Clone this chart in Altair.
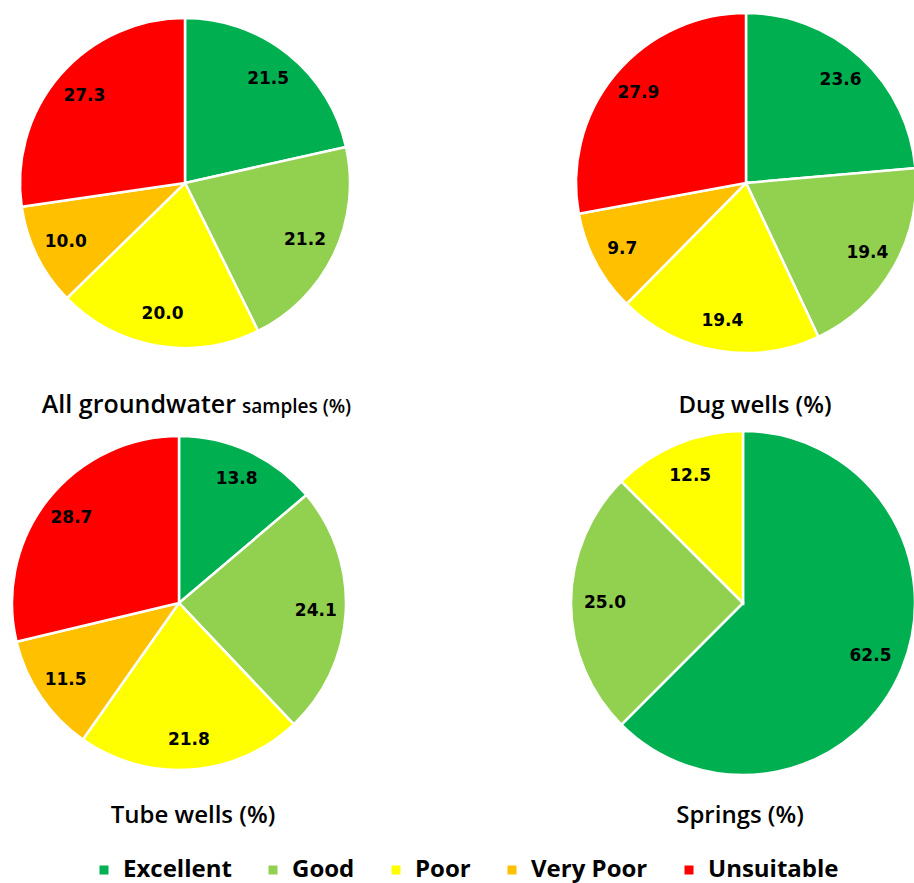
import altair as alt
import pandas as pd

categories = ["Excellent", "Good", "Poor", "Very Poor", "Unsuitable"]
colors = ["#00B050", "#92D050", "#FFFF00", "#FFC000", "#FF0000"]

all_samples = [21.5, 21.2, 20.0, 10.0, 27.3]
dug_wells = [23.6, 19.4, 19.4, 9.7, 27.9]
tube_wells = [13.8, 24.1, 21.8, 11.5, 28.7]
springs = [62.5, 25.0, 12.5]

titles = ["All groundwater", "samples (%)", "Dug wells (%)", "Tube wells (%)", "Springs (%)"]

color_enc = alt.Color(
    "category:N",
    scale=alt.Scale(domain=categories, range=colors),
    legend=alt.Legend(
        orient="none", legendX=92, legendY=858, direction="horizontal",
        title=None, symbolType="square", symbolSize=81, symbolStrokeWidth=0,
        labelFont="Open Sans", labelFontWeight="bold", labelFontSize=24,
        labelColor="black", labelOffset=7, columnPadding=29, padding=0,
        labelLimit=300,
    ),
)


def pie(values, cx, cy, r, lr):
    df = pd.DataFrame({
        "category": categories[: len(values)],
        "value": values,
        "idx": list(range(len(values))),
    })
    base = alt.Chart(df).encode(
        theta=alt.Theta("value:Q", stack=True),
        order=alt.Order("idx:Q"),
        x=alt.value(cx),
        y=alt.value(cy),
    )
    arc = base.mark_arc(outerRadius=r, stroke="white", strokeWidth=2.5).encode(color=color_enc)
    txt = base.mark_text(
        radius=lr, font="DejaVu Sans", fontWeight="bold", fontSize=17,
        color="black", align="center", baseline="middle",
    ).encode(text=alt.Text("value:Q", format=".1f"))
    return alt.layer(arc, txt)


def title(t, x, y, size, align):
    return alt.Chart(pd.DataFrame({"t": [t]})).mark_text(
        font="Open Sans", fontWeight=600, fontSize=size, color="black",
        align=align, baseline="alphabetic",
    ).encode(text="t:N", x=alt.value(x), y=alt.value(y))


chart = alt.layer(
    pie(all_samples, 185, 183, 165, 133),
    pie(dug_wells, 746, 183, 170, 140),
    pie(tube_wells, 179, 603, 167, 137),
    pie(springs, 743, 603, 172, 138),
    title(titles[0], 236, 413, 25, "right"),
    title(titles[1], 242, 413, 19, "left"),
    title(titles[2], 755, 413, 24, "center"),
    title(titles[3], 193, 823, 24, "center"),
    title(titles[4], 740, 823, 24, "center"),
).resolve_scale(theta="independent").properties(
    width=914, height=883, padding=0,
    autosize=alt.AutoSizeParams(type="none"),
).configure_view(stroke=None)

chart.save("out.html", embed_options={"renderer": "svg", "actions": False})
